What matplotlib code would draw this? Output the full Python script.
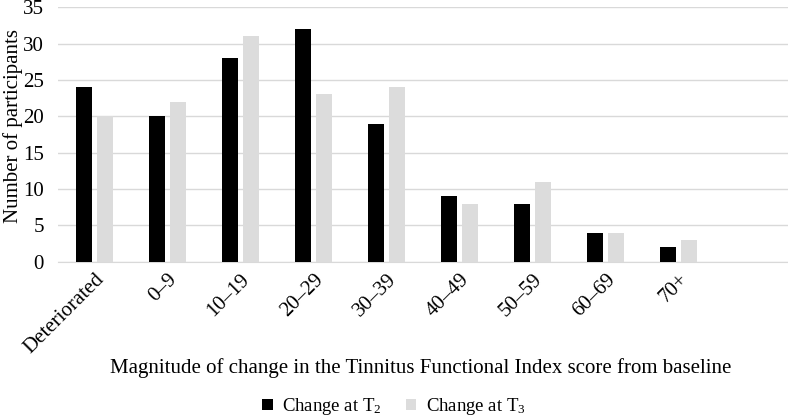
import numpy as np
import matplotlib
matplotlib.use("Agg")
import matplotlib.pyplot as plt

categories = ["Deteriorated", "0\u20139", "10\u201319", "20\u201329", "30\u201339",
              "40\u201349", "50\u201359", "60\u201369", "70+"]
change_t2 = [24, 20, 28, 32, 19, 9, 8, 4, 2]
change_t3 = [20, 22, 31, 23, 24, 8, 11, 4, 3]
y_ticks = [0, 5, 10, 15, 20, 25, 30, 35]

plt.rcParams["font.family"] = ["Liberation Serif", "DejaVu Serif"]
plt.rcParams["mathtext.fontset"] = "custom"
plt.rcParams["mathtext.rm"] = "Liberation Serif"
plt.rcParams["mathtext.it"] = "Liberation Serif:italic"

fig = plt.figure(figsize=(7.88, 4.19), dpi=100)
ax = fig.add_axes([0.0736, 0.375, 0.9264, 0.608])

x = np.arange(len(categories))
w = 0.22
off = 0.14
ax.bar(x - off, change_t2, width=w, color="black", label="Change at T$_\\mathrm{2}$", zorder=3)
ax.bar(x + off, change_t3, width=w, color="#dcdcdc", label="Change at T$_\\mathrm{3}$", zorder=3)

ax.set_xlim(-0.5, 9.5)
ax.set_ylim(0, 35)
ax.set_yticks(y_ticks)
ax.yaxis.grid(True, color="#d9d9d9", lw=1.0, zorder=0)
ax.set_axisbelow(True)
for s in ["top", "right", "left"]:
    ax.spines[s].set_visible(False)
ax.spines["bottom"].set_color("#d9d9d9")
ax.tick_params(axis="both", length=0, labelsize=15)
ax.tick_params(axis="y", pad=10)
ax.tick_params(axis="x", pad=6)
ax.set_xticks(x)
ax.set_xticklabels(categories, rotation=45, ha="right", rotation_mode="anchor")

fig.text(0.016, 0.70, "Number of participants", rotation=90,
         ha="center", va="center", fontsize=15)
fig.text(0.534, 0.122, "Magnitude of change in the Tinnitus Functional Index score from baseline",
         ha="center", va="center", fontsize=15)
fig.legend(loc="center", bbox_to_anchor=(0.5, 0.03), ncol=2, frameon=False,
           fontsize=13.5, handlelength=0.55, handleheight=0.55, handletextpad=0.5,
           columnspacing=1.3)

fig.savefig("out.png", dpi=100)
